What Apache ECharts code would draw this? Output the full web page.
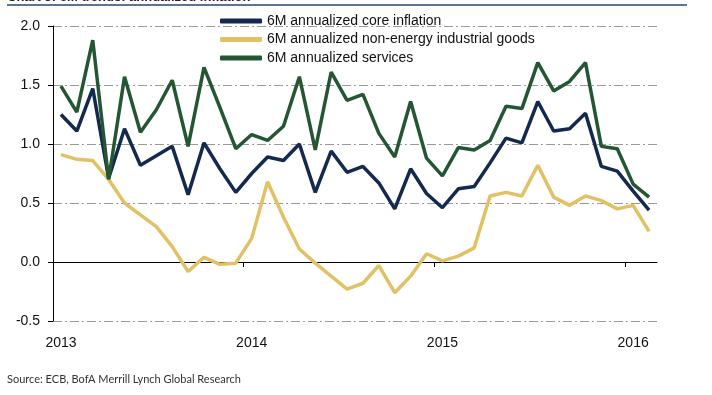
<!DOCTYPE html>
<html>
<head>
<meta charset="utf-8">
<script src="https://cdn.jsdelivr.net/npm/echarts@6/dist/echarts.min.js"></script>
<style>
html,body{margin:0;padding:0;background:#fff;}
#chart{width:712px;height:395px;}
</style>
</head>
<body>
<div id="chart"></div>
<script>
var months = ["Jan 13","Feb 13","Mar 13","Apr 13","May 13","Jun 13","Jul 13","Aug 13","Sep 13","Oct 13","Nov 13","Dec 13",
  "Jan 14","Feb 14","Mar 14","Apr 14","May 14","Jun 14","Jul 14","Aug 14","Sep 14","Oct 14","Nov 14","Dec 14",
  "Jan 15","Feb 15","Mar 15","Apr 15","May 15","Jun 15","Jul 15","Aug 15","Sep 15","Oct 15","Nov 15","Dec 15",
  "Jan 16","Feb 16"];
var yearLabels = {"Jan 13":"2013","Jan 14":"2014","Jan 15":"2015","Jan 16":"2016"};
var yTicks = [-0.5, 0.0, 0.5, 1.0, 1.5, 2.0];

var coreInflation = [1.25,1.11,1.47,0.71,1.13,0.82,0.90,0.98,0.57,1.01,0.79,0.59,
  0.75,0.89,0.86,1.00,0.59,0.94,0.76,0.81,0.67,0.45,0.79,0.58,
  0.46,0.62,0.64,0.84,1.05,1.01,1.36,1.11,1.13,1.26,0.81,0.77,
  0.60,0.44];
var goods = [0.91,0.87,0.86,0.70,0.50,0.40,0.30,0.13,-0.08,0.04,-0.02,-0.01,
  0.20,0.68,0.38,0.11,-0.01,-0.12,-0.23,-0.18,-0.03,-0.26,-0.12,0.07,
  0.01,0.05,0.12,0.56,0.59,0.56,0.82,0.55,0.48,0.56,0.52,0.45,
  0.48,0.26];
var services = [1.49,1.27,1.88,0.70,1.57,1.10,1.29,1.54,0.98,1.65,1.31,0.96,
  1.08,1.03,1.15,1.57,0.95,1.61,1.37,1.42,1.09,0.89,1.36,0.88,
  0.73,0.97,0.95,1.03,1.32,1.30,1.69,1.45,1.53,1.69,0.98,0.96,
  0.66,0.55];

var names = ["6M annualized core inflation","6M annualized non-energy industrial goods","6M annualized services"];
var colors = ["#13294d","#e2c064","#245634"];

var chart = echarts.init(document.getElementById('chart'), null, {renderer:'canvas'});
var font = "'Liberation Sans', Arial, sans-serif";
chart.setOption({
  animation:false,
  backgroundColor:'#fff',
  color: colors,
  grid:{left:53,right:55,top:26,bottom:74,containLabel:false,outerBoundsMode:'none'},
  legend:{
    orient:'vertical', left:220, top:13, padding:0, itemWidth:42, itemHeight:5, itemGap:2.5,
    icon:'roundRect',
    textStyle:{fontFamily:font,fontSize:14,color:'#111',lineHeight:16},
    data:names
  },
  graphic:[
    {type:'text', left:7, top:-9, style:{text:'Chart 3: 6M trends: annualized inflation', font:"bold 13px 'Liberation Sans', Arial, sans-serif", fill:'#222'}},
    {type:'rect', shape:{x:7,y:4,width:680,height:2}, style:{fill:'#5b7694'}},
    {type:'text', left:7, top:374, style:{text:'Source: ECB, BofA Merrill Lynch Global Research', font:"11px Lato, 'Liberation Sans', sans-serif", fill:'#333'}}
  ],
  xAxis:[{
    type:'category', data:months, boundaryGap:true,
    axisLine:{show:false,onZero:false}, axisTick:{show:false},
    axisLabel:{interval:function(i){return i%12===0;}, margin:15, fontFamily:font, fontSize:14, color:'#111',
      formatter:function(v){return yearLabels[v]||'';}},
    splitLine:{show:false}
  },{
    type:'value', min:0, max:38, position:'bottom',
    axisLine:{show:true,onZero:true,lineStyle:{color:'#000',width:1}},
    axisTick:{show:true,inside:false,length:5,customValues:[0,12,24,36],lineStyle:{color:'#000'}},
    axisLabel:{show:false}, splitLine:{show:false}
  }],
  yAxis:{
    type:'value', min:-0.5, max:2.0, interval:0.5,
    axisLine:{show:true,lineStyle:{color:'#000',width:1}},
    axisTick:{show:true,length:5,lineStyle:{color:'#000'}},
    axisLabel:{margin:13,fontFamily:font,fontSize:14,color:'#111',
      formatter:function(v){return yTicks.indexOf(v)>=0 ? v.toFixed(1) : '';}},
    splitLine:{show:true,lineStyle:{color:'#9a9a9a',width:1,type:[9,3,2,3]}}
  },
  series:[
    {name:names[0],type:'line',xAxisIndex:0,data:coreInflation,symbol:'none',lineStyle:{width:3.5,color:colors[0]},z:3},
    {name:names[1],type:'line',xAxisIndex:0,data:goods,symbol:'none',lineStyle:{width:3.5,color:colors[1]},z:2},
    {name:names[2],type:'line',xAxisIndex:0,data:services,symbol:'none',lineStyle:{width:3.5,color:colors[2]},z:4}
  ]
});
</script>
</body>
</html>
